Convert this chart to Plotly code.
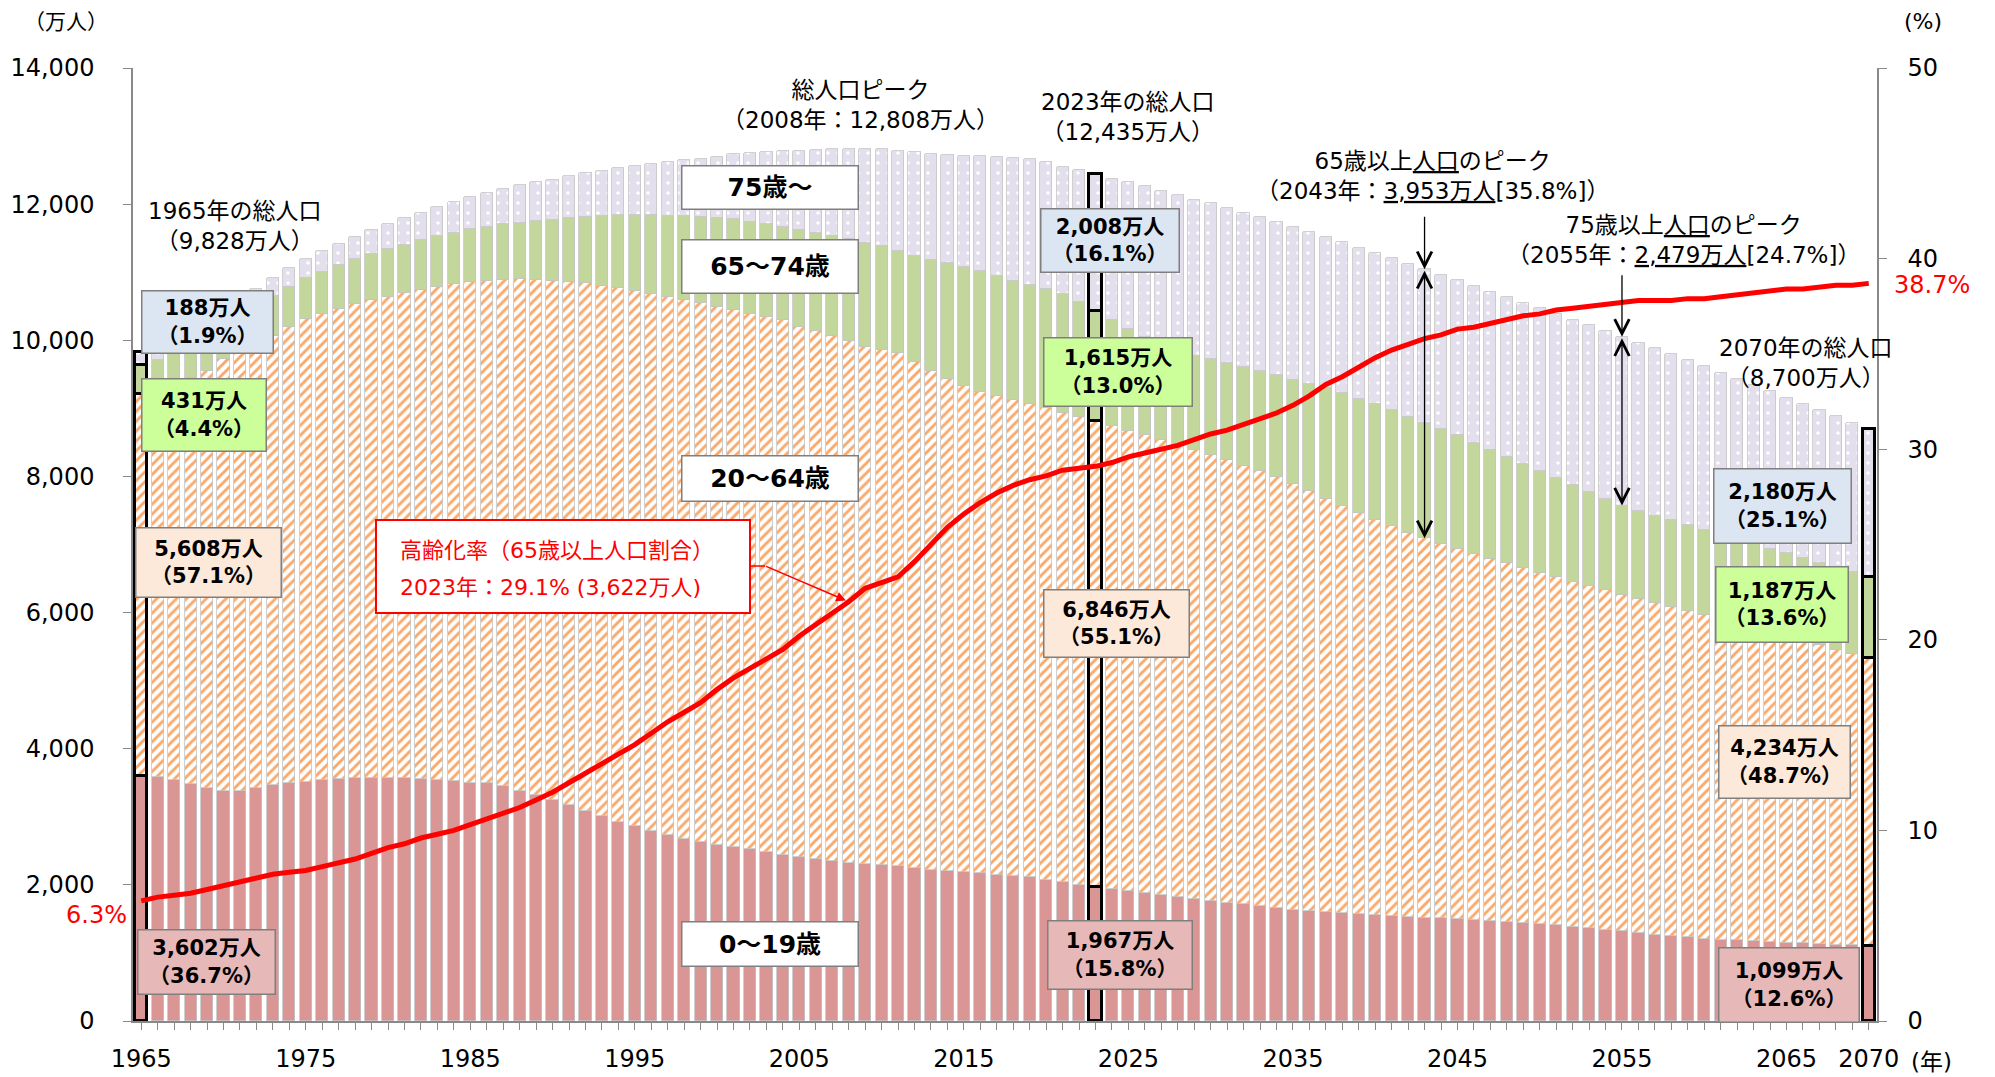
import plotly.graph_objects as go

# ---------------- data (万人 / %) ----------------
years = list(range(1965, 2071))

age_0_19 = [3602, 3590, 3540, 3480, 3430, 3385, 3385, 3425, 3460, 3490,
            3515, 3535, 3555, 3565, 3568, 3570, 3565, 3552, 3540, 3520,
            3498, 3490, 3445, 3380, 3320, 3250, 3175, 3090, 3005, 2925,
            2858, 2795, 2730, 2680, 2632, 2592, 2555, 2523, 2485, 2442,
            2408, 2378, 2352, 2328, 2308, 2290, 2270, 2246, 2222, 2198,
            2186, 2172, 2152, 2135, 2115, 2078, 2040, 2005, 1967, 1945,
            1912, 1878, 1848, 1822, 1790, 1765, 1732, 1712, 1683, 1658,
            1633, 1614, 1603, 1585, 1570, 1555, 1540, 1526, 1515, 1506,
            1496, 1486, 1471, 1456, 1442, 1422, 1408, 1388, 1363, 1344,
            1319, 1295, 1270, 1251, 1231, 1212, 1197, 1183, 1170, 1160,
            1150, 1140, 1130, 1120, 1110, 1099]

age_20_64 = [5608, 5674, 5820, 5973, 6116, 6343, 6443, 6530, 6607, 6702,
             6792, 6856, 6912, 6971, 7030, 7071, 7124, 7186, 7247, 7311,
             7360, 7386, 7446, 7518, 7573, 7622, 7680, 7745, 7799, 7843,
             7873, 7889, 7910, 7918, 7916, 7897, 7890, 7863, 7853, 7849,
             7793, 7752, 7705, 7658, 7594, 7568, 7538, 7434, 7329, 7226,
             7136, 7073, 7025, 6982, 6952, 6934, 6889, 6866, 6846, 6799,
             6761, 6726, 6687, 6642, 6595, 6551, 6507, 6447, 6395, 6329,
             6258, 6171, 6071, 5982, 5891, 5801, 5725, 5649, 5576, 5506,
             5439, 5377, 5320, 5266, 5209, 5159, 5108, 5065, 5026, 4981,
             4942, 4906, 4875, 4837, 4799, 4759, 4709, 4658, 4606, 4551,
             4496, 4443, 4390, 4337, 4285, 4234]

age_65_74 = [431, 445, 458, 471, 492, 515, 535, 559, 585, 595,
             603, 619, 635, 652, 670, 699, 716, 730, 741, 752,
             776, 794, 812, 831, 857, 892, 935, 979, 1024, 1069,
             1109, 1152, 1191, 1229, 1258, 1303, 1338, 1359, 1376, 1378,
             1416, 1444, 1476, 1500, 1530, 1529, 1505, 1559, 1630, 1708,
             1755, 1768, 1767, 1760, 1740, 1743, 1754, 1688, 1615, 1554,
             1498, 1444, 1405, 1382, 1390, 1408, 1425, 1443, 1468, 1498,
             1528, 1573, 1618, 1652, 1680, 1701, 1705, 1705, 1698, 1685,
             1668, 1635, 1600, 1562, 1530, 1503, 1465, 1425, 1385, 1345,
             1311, 1295, 1280, 1265, 1255, 1243, 1238, 1234, 1231, 1229,
             1226, 1219, 1212, 1204, 1196, 1187]

age_75p = [188, 195, 202, 209, 216, 224, 235, 246, 258, 270,
           284, 299, 315, 331, 348, 366, 385, 405, 426, 448,
           471, 496, 521, 546, 571, 597, 620, 643, 666, 690,
           717, 750, 785, 822, 861, 901, 949, 1004, 1055, 1110,
           1160, 1216, 1270, 1322, 1371, 1419, 1470, 1520, 1560, 1592,
           1632, 1691, 1748, 1798, 1849, 1860, 1867, 1936, 2008, 2076,
           2155, 2216, 2260, 2288, 2290, 2288, 2280, 2272, 2262, 2252,
           2245, 2232, 2222, 2218, 2220, 2227, 2235, 2245, 2255, 2265,
           2277, 2300, 2325, 2350, 2370, 2385, 2405, 2425, 2445, 2465,
           2479, 2470, 2455, 2440, 2420, 2401, 2380, 2358, 2335, 2311,
           2287, 2265, 2243, 2222, 2201, 2180]

aging_rate = [6.3, 6.5, 6.6, 6.7, 6.9, 7.1, 7.3, 7.5, 7.7, 7.8,
              7.9, 8.1, 8.3, 8.5, 8.8, 9.1, 9.3, 9.6, 9.8, 10.0,
              10.3, 10.6, 10.9, 11.2, 11.6, 12.0, 12.5, 13.0, 13.5, 14.0,
              14.5, 15.1, 15.7, 16.2, 16.7, 17.4, 18.0, 18.5, 19.0, 19.5,
              20.2, 20.8, 21.4, 22.0, 22.7, 23.0, 23.3, 24.1, 25.0, 25.9,
              26.6, 27.2, 27.7, 28.1, 28.4, 28.6, 28.9, 29.0, 29.1, 29.3,
              29.6, 29.8, 30.0, 30.2, 30.5, 30.8, 31.0, 31.3, 31.6, 31.9,
              32.3, 32.8, 33.4, 33.8, 34.3, 34.8, 35.2, 35.5, 35.8, 36.0,
              36.3, 36.4, 36.6, 36.8, 37.0, 37.1, 37.3, 37.4, 37.5, 37.6,
              37.7, 37.8, 37.8, 37.8, 37.9, 37.9, 38.0, 38.1, 38.2, 38.3,
              38.4, 38.4, 38.5, 38.6, 38.6, 38.7]

# shares (%) printed in the reference's value boxes
share_1965 = {"75+": 1.9, "65-74": 4.4, "20-64": 57.1, "0-19": 36.7}
share_2023 = {"75+": 16.1, "65-74": 13.0, "20-64": 55.1, "0-19": 15.8}
share_2070 = {"75+": 25.1, "65-74": 13.6, "20-64": 48.7, "0-19": 12.6}

x_label_years = [1965, 1975, 1985, 1995, 2005, 2015, 2025, 2035, 2045, 2055, 2065, 2070]
highlight_years = [1965, 2023, 2070]
y_ticks = [0, 2000, 4000, 6000, 8000, 10000, 12000, 14000]
y2_ticks = [0, 10, 20, 30, 40, 50]

# ---------------- style ----------------
FONT = "DejaVu Sans, Noto Sans CJK JP, sans-serif"
C_0_19 = "#d99694"
C_20_64 = "#f9a96b"
C_65_74 = "#c3d69b"
C_75 = "#e4dfec"
L_75 = "#dce6f2"
L_65 = "#ccff99"
L_20 = "#fde9d9"
L_0 = "#e6b9b8"
GRAY = "#898989"

PL, PR, PT, PB = 133, 1877, 68, 1021


def px(x):
    return (x - PL) / (PR - PL)


def py(y):
    return (PB - y) / (PB - PT)


lw = [3.5 if y in highlight_years else 0.8 for y in years]
lc = ["#000000" if y in highlight_years else "#c4c4c4" for y in years]

fig = go.Figure()
fig.add_bar(x=years, y=age_0_19, width=0.74, name="0～19歳",
            marker=dict(color=C_0_19, line=dict(color=lc, width=lw)))
fig.add_bar(x=years, y=age_20_64, width=0.74, name="20～64歳",
            marker=dict(color="white", line=dict(color=lc, width=lw),
                        pattern=dict(shape="/", fgcolor=C_20_64, bgcolor="white",
                                     size=7, solidity=0.42, fillmode="replace")))
fig.add_bar(x=years, y=age_65_74, width=0.74, name="65～74歳",
            marker=dict(color=C_65_74, line=dict(color=lc, width=lw)))
fig.add_bar(x=years, y=age_75p, width=0.74, name="75歳～",
            marker=dict(color=C_75, line=dict(color=lc, width=lw),
                        pattern=dict(shape=".", fgcolor="white", bgcolor=C_75,
                                     size=10, solidity=0.1, fillmode="replace")))
fig.add_scatter(x=years, y=aging_rate, yaxis="y2", mode="lines",
                line=dict(color="#ff0000", width=5), name="高齢化率")

ann = []
shapes = []


def idx(y):
    return years.index(y)


def note(txt, x, y, size=23, color="#000", xanchor="center", yanchor="middle", **kw):
    d = dict(x=px(x), y=py(y), xref="paper", yref="paper", text=txt, showarrow=False,
             xanchor=xanchor, yanchor=yanchor, font=dict(size=size, color=color, family=FONT))
    d.update(kw)
    ann.append(d)


# value boxes
box_specs = [
    (1965, age_75p, share_1965["75+"], L_75, 207, 322, 133, 64),
    (1965, age_65_74, share_1965["65-74"], L_65, 204, 415, 126, 74),
    (1965, age_20_64, share_1965["20-64"], L_20, 208, 562, 147, 71),
    (1965, age_0_19, share_1965["0-19"], L_0, 206, 962, 139, 66),
    (2023, age_75p, share_2023["75+"], L_75, 1110, 240, 140, 65),
    (2023, age_65_74, share_2023["65-74"], L_65, 1118, 372, 150, 70),
    (2023, age_20_64, share_2023["20-64"], L_20, 1116, 623, 147, 69),
    (2023, age_0_19, share_2023["0-19"], L_0, 1120, 955, 146, 70),
    (2070, age_75p, share_2070["75+"], L_75, 1782, 506, 139, 76),
    (2070, age_65_74, share_2070["65-74"], L_65, 1782, 604, 134, 77),
    (2070, age_20_64, share_2070["20-64"], L_20, 1784, 762, 133, 74),
    (2070, age_0_19, share_2070["0-19"], L_0, 1789, 985, 142, 76),
]
for yr, series, pct, bg, cx, cy, w, h in box_specs:
    v = series[idx(yr)]
    txt = f"<b>{v:,}万人<br>（{pct:.1f}%）</b>"
    note(txt, cx, cy, size=21, width=w - 5, height=h - 5, bgcolor=bg,
         bordercolor="#7f7f7f", borderwidth=1.5, borderpad=1)

# category boxes
for txt, cx, cy, w, h in [("75歳～", 770, 187, 178, 45), ("65～74歳", 770, 266, 178, 55),
                          ("20～64歳", 770, 478, 178, 47), ("0～19歳", 770, 944, 178, 46)]:
    note(f"<b>{txt}</b>", cx, cy, size=25, width=w - 5, height=h - 5, bgcolor="white",
         bordercolor="#7f7f7f", borderwidth=1.5, borderpad=1)

# plain text notes
for txt, cx, cy in [
    ("1965年の総人口<br>（9,828万人）", 235, 226),
    ("総人口ピーク<br>（2008年：12,808万人）", 860, 105),
    ("2023年の総人口<br>（12,435万人）", 1128, 117),
    ("65歳以上<u>人口</u>のピーク<br>（2043年：<u>3,953万人</u>[35.8%]）", 1432, 176),
    ("75歳以上<u>人口</u>のピーク<br>（2055年：<u>2,479万人</u>[24.7%]）", 1683, 240),
    ("2070年の総人口<br>（8,700万人）", 1806, 363),
]:
    note(txt, cx, cy, size=23)

# axis unit labels
note("（万人）", 66, 22, size=21)
note("(%)", 1923, 22, size=22)
note("(年)", 1931, 1062, size=23)

# rate end labels
note(f"{aging_rate[0]:.1f}%", 129, 915, size=24, color="#ff0000", xanchor="right")
note(f"{aging_rate[-1]:.1f}%", 1892, 285, size=24, color="#ff0000", xanchor="left")

# red explanatory box
shapes.append(dict(type="rect", xref="paper", yref="paper",
                   x0=px(376), x1=px(750), y0=py(613), y1=py(520),
                   fillcolor="white", line=dict(color="#ff0000", width=2), layer="above"))
note("高齢化率（65歳以上人口割合）", 398, 550, size=22, color="#ff0000", xanchor="left")
note("2023年：29.1% (3,622万人)", 398, 588, size=22, color="#ff0000", xanchor="left")
shapes.append(dict(type="line", xref="paper", yref="paper",
                   x0=px(750), x1=px(765), y0=py(566), y1=py(566),
                   line=dict(color="#ff0000", width=1.5), layer="above"))
i08 = idx(2008)
ann.append(dict(x=2008, y=aging_rate[i08], xref="x", yref="y2", text="",
                showarrow=True, ax=-84, ay=-36, arrowhead=2, arrowsize=1.3,
                arrowwidth=1.5, arrowcolor="#ff0000", standoff=3))

# peak arrows
for yr, lower_sum, tail_px in [(2043, lambda i: age_0_19[i] + age_20_64[i], -54),
                               (2055, lambda i: age_0_19[i] + age_20_64[i] + age_65_74[i], -63)]:
    i = idx(yr)
    top = age_0_19[i] + age_20_64[i] + age_65_74[i] + age_75p[i]
    low = lower_sum(i)
    ann.append(dict(x=yr, y=top, xref="x", yref="y", text="", showarrow=True,
                    ax=0, ay=tail_px, arrowhead=5, arrowsize=2.2, arrowwidth=1.3,
                    arrowcolor="#000", standoff=0))
    ann.append(dict(x=yr, y=low, xref="x", yref="y", text="", showarrow=True,
                    ax=yr, ay=top, axref="x", ayref="y", arrowside="end+start",
                    arrowhead=5, startarrowhead=5, arrowsize=2.2, startarrowsize=2.2,
                    arrowwidth=1.3, arrowcolor="#000", standoff=0, startstandoff=0))

fig.update_layout(
    width=1995, height=1077,
    margin=dict(l=PL, r=1995 - PR, t=PT, b=1077 - PB, autoexpand=False),
    barmode="stack", bargap=0, showlegend=False,
    plot_bgcolor="white", paper_bgcolor="white",
    font=dict(family=FONT, size=24, color="#000"),
    annotations=ann, shapes=shapes,
    xaxis=dict(range=[1964.5, 2070.5], tickmode="array", tickvals=years,
               ticktext=[str(y) if y in x_label_years else "" for y in years],
               ticks="outside", ticklen=7, tickcolor=GRAY, tickwidth=1.2,
               showline=True, linecolor=GRAY, linewidth=1.5,
               showgrid=False, zeroline=False, ticklabelstandoff=8,
               tickfont=dict(size=24, family=FONT, color="#000")),
    yaxis=dict(range=[0, 14000], tickmode="array", tickvals=y_ticks,
               ticktext=[f"{v:,}" for v in y_ticks],
               ticks="outside", ticklen=8, tickcolor=GRAY, tickwidth=1.2,
               showline=True, linecolor=GRAY, linewidth=1.5,
               showgrid=False, zeroline=False, ticklabelstandoff=24,
               tickfont=dict(size=24, family=FONT, color="#000")),
    yaxis2=dict(range=[0, 50], tickmode="array", tickvals=y2_ticks,
                overlaying="y", side="right",
                ticks="outside", ticklen=8, tickcolor=GRAY, tickwidth=1.2,
                showline=True, linecolor=GRAY, linewidth=1.5,
                showgrid=False, zeroline=False, ticklabelstandoff=16,
                tickfont=dict(size=24, family=FONT, color="#000")),
)

fig.write_html("out.html", config={"displayModeBar": False},
               post_script="document.body.style.margin='0';document.body.style.overflow='hidden';")
